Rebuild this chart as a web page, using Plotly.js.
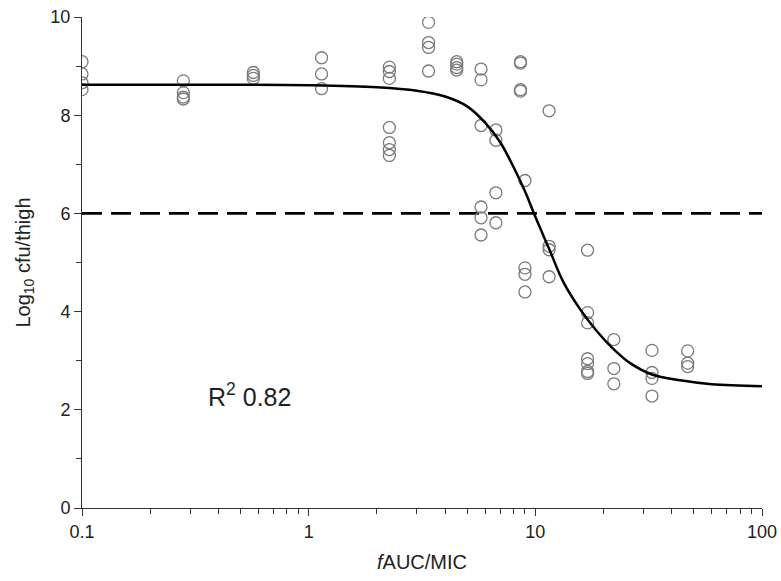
<!DOCTYPE html>
<html>
<head>
<meta charset="utf-8">
<script src="https://cdn.plot.ly/plotly-3.0.1.min.js"></script>
<style>html,body{margin:0;padding:0;background:#fff;}#chart{width:781px;height:581px;}</style>
</head>
<body>
<div id="chart"></div>
<script>
// Observed data (fAUC/MIC vs log10 cfu/thigh)
var obsX = [
  0.1, 0.1, 0.1, 0.1,
  0.28, 0.28, 0.28, 0.28,
  0.57, 0.57, 0.57,
  1.14, 1.14, 1.14,
  2.27, 2.27, 2.27, 2.27, 2.27, 2.27, 2.27,
  3.38, 3.38, 3.38, 3.38,
  4.5, 4.5, 4.5, 4.5,
  5.76, 5.76, 5.76, 5.76, 5.76, 5.76,
  6.7, 6.7, 6.7, 6.7,
  8.6, 8.6, 8.6, 8.6,
  9.0, 9.0, 9.0, 9.0,
  11.5, 11.5, 11.5, 11.5,
  17.0, 17.0, 17.0, 17.0, 17.0, 17.0, 17.0,
  22.2, 22.2, 22.2,
  32.7, 32.7, 32.7, 32.7,
  47, 47, 47
];
var obsY = [
  9.09, 8.84, 8.66, 8.52,
  8.70, 8.46, 8.37, 8.33,
  8.87, 8.81, 8.75,
  9.17, 8.84, 8.54,
  8.98, 8.89, 8.75, 7.75, 7.44, 7.30, 7.18,
  9.89, 9.48, 9.38, 8.90,
  9.09, 9.04, 8.97, 8.92,
  8.94, 8.72, 7.79, 6.13, 5.91, 5.56,
  7.70, 7.49, 6.42, 5.81,
  9.09, 9.06, 8.52, 8.49,
  6.67, 4.89, 4.76, 4.40,
  8.09, 5.33, 5.26, 4.71,
  5.25, 3.98, 3.77, 3.04, 2.94, 2.78, 2.74,
  3.43, 2.84, 2.53,
  3.21, 2.76, 2.64, 2.28,
  3.20, 2.95, 2.88
];
// Fitted curve
var fitX = [0.1, 0.5, 1, 2, 3, 4, 5, 6, 7, 8, 9, 10, 11.5, 13.3, 15.8, 18.7, 22.2, 26.2, 32.7, 43.6, 60, 100];
var fitY = [8.62, 8.62, 8.61, 8.57, 8.50, 8.38, 8.18, 7.85, 7.45, 6.95, 6.45, 5.93, 5.28, 4.60, 4.04, 3.60, 3.23, 2.95, 2.72, 2.60, 2.52, 2.48];
// Threshold line
var refX = [0.1, 100];
var refY = [6, 6];
var xTickVals = [0.1, 1, 10, 100];
var xTickText = ['0.1', '1', '10', '100'];
var xMinorVals = [0.2,0.3,0.4,0.5,0.6,0.7,0.8,0.9,2,3,4,5,6,7,8,9,20,30,40,50,60,70,80,90];
var annText = 'R<sup>2</sup> 0.82';

var font = 'Liberation Sans, Arial, sans-serif';
var traces = [
  {x: refX, y: refY, mode: 'lines', line: {color: '#000', width: 2.6, dash: '20px,9px'}, hoverinfo: 'skip'},
  {x: obsX, y: obsY, mode: 'markers', marker: {symbol: 'circle-open', size: 12, color: '#7a7a7a', line: {width: 1.3, color: '#7a7a7a'}}},
  {x: fitX, y: fitY, mode: 'lines', line: {color: '#000', width: 2.5, shape: 'spline', smoothing: 1}}
];
var layout = {
  width: 781, height: 581,
  margin: {l: 82, r: 19, t: 17, b: 73},
  paper_bgcolor: '#fff', plot_bgcolor: '#fff',
  showlegend: false,
  font: {family: font, color: '#222', size: 16},
  xaxis: {
    type: 'log', range: [-1, 2],
    tickmode: 'array', tickvals: xTickVals, ticktext: xTickText,
    ticks: 'outside', ticklen: 7, tickwidth: 1, tickcolor: '#333',
    minor: {tickmode: 'array', tickvals: xMinorVals, ticks: 'outside', ticklen: 5, tickwidth: 1, tickcolor: '#333', showgrid: false},
    showgrid: false, zeroline: false, showline: true, linecolor: '#333', linewidth: 1,
    tickfont: {family: font, size: 18, color: '#222'},
    title: {text: '<i>f</i>AUC/MIC', font: {family: font, size: 20, color: '#222'}, standoff: 14}
  },
  yaxis: {
    range: [0, 10], dtick: 2, tick0: 0,
    ticks: 'outside', ticklen: 7, tickwidth: 1, tickcolor: '#333',
    minor: {dtick: 1, ticks: 'outside', ticklen: 5, tickwidth: 1, tickcolor: '#333', showgrid: false},
    showgrid: false, zeroline: false, showline: true, linecolor: '#333', linewidth: 1,
    tickfont: {family: font, size: 18, color: '#222'},
    title: {text: 'Log<sub>10</sub> cfu/thigh', font: {family: font, size: 20, color: '#222'}, standoff: 14}
  },
  annotations: [
    {x: Math.log10(0.55), y: 2.3, xref: 'x', yref: 'y', text: annText, showarrow: false,
     font: {family: font, size: 25, color: '#222'}}
  ]
};
Plotly.newPlot('chart', traces, layout, {displayModeBar: false, staticPlot: true});
</script>
</body>
</html>
